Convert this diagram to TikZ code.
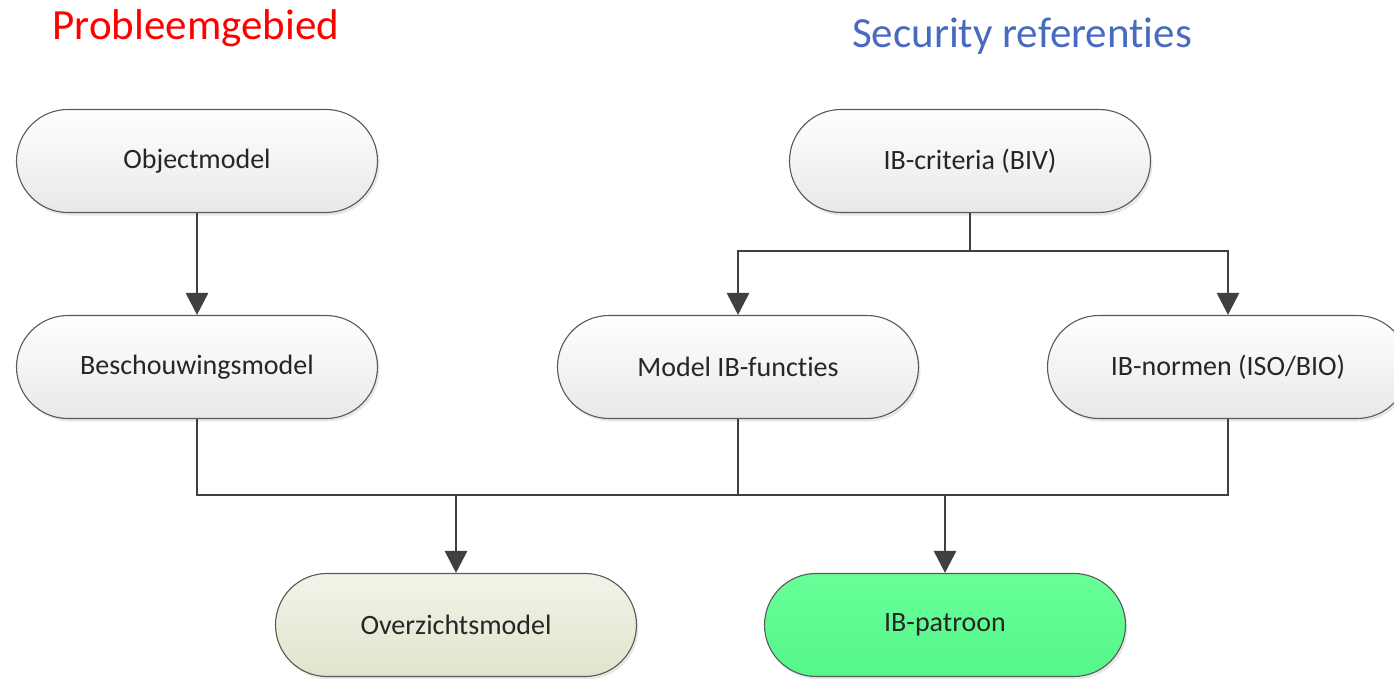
\documentclass[tikz,border=0pt]{standalone}
\usepackage{fontspec}
\setmainfont{Carlito}[RawFeature={-liga,-dlig,-clig}]
\usetikzlibrary{shapes.misc,arrows.meta,shadows}
\definecolor{titleblue}{RGB}{72,106,192}
\definecolor{lineg}{RGB}{64,64,64}
\definecolor{olivetop}{RGB}{242,244,232}
\definecolor{olivebot}{RGB}{224,228,204}
\definecolor{greentop}{RGB}{104,255,152}
\definecolor{greenbot}{RGB}{84,246,138}
\begin{document}
\begin{tikzpicture}[x=1pt,y=-1pt,
  box/.style={rounded rectangle, draw=black!65, line width=1.1pt,
    minimum width=361pt, minimum height=103pt, inner sep=0pt,
    top color=white, bottom color=black!9,
    font=\fontsize{28}{31}\selectfont, text=black!85,
    drop shadow={opacity=0.18,shadow xshift=2pt,shadow yshift=-3pt}},
  conn/.style={draw=lineg, line width=2.8pt},
  arr/.style={conn, -{Triangle[width=22pt,length=22pt]}},
  title/.style={anchor=base, font=\fontsize{43}{48}\selectfont}
]
\useasboundingbox (0,0) rectangle (1394,679);

\node[title, text=red] (t1) at (196,40) {Probleemgebied};
\node[title, text=titleblue] (t2) at (1022,48) {Security referenties};

\node[box] (obj) at (197,161) {Objectmodel};
\node[box] (besch) at (197,367) {Beschouwingsmodel};
\node[box] (crit) at (970,161) {IB-criteria (BIV)};
\node[box] (func) at (738,367) {Model IB-functies};
\node[box] (norm) at (1228,367) {IB-normen (ISO/BIO)};
\node[box, top color=olivetop, bottom color=olivebot] (over) at (456,625) {Overzichtsmodel};
\node[box, top color=greentop, bottom color=greenbot] (pat) at (945,625) {IB-patroon};

\draw[arr] (obj.south) -- (besch.north);

\coordinate (split) at (970,251);
\draw[conn] (crit.south) -- (split);
\draw[arr] (split) -| (func.north);
\draw[arr] (split) -| (norm.north);

\coordinate (join) at (738,495);
\draw[conn] (besch.south) |- (join) -| (norm.south);
\draw[conn] (func.south) -- (join);
\draw[arr] (join -| over.north) -- (over.north);
\draw[arr] (join -| pat.north) -- (pat.north);
\end{tikzpicture}
\end{document}
